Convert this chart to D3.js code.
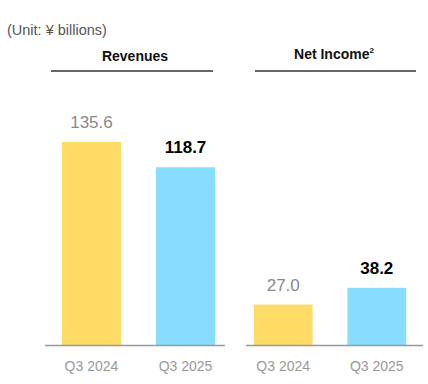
<!DOCTYPE html>
<html>
<head>
<meta charset="utf-8">
<script src="https://cdn.jsdelivr.net/npm/d3@7"></script>
<style>
  body { margin: 0; background: #fff; }
  svg { display: block; }
</style>
</head>
<body>
<svg id="chart" width="428" height="384"></svg>
<script>
// data
var periods = ["Q3 2024", "Q3 2025"];
var revenues = [135.6, 118.7];
var netIncome = [27.0, 38.2];
var panelTitles = ["Revenues", "Net Income"];

var colors = ["#FFDC67", "#87DDFF"];

var svg = d3.select("#chart");
var baseY = 345;

// shared value scale for both panels
var y = d3.scaleLinear()
    .domain([0, 135.6])
    .range([baseY, 142]);

svg.append("text")
    .attr("x", 7)
    .attr("y", 35)
    .attr("fill", "#555")
    .attr("font-family", "Liberation Sans, Arial, sans-serif")
    .attr("font-size", 14.5)
    .text("(Unit: ¥ billions)");

var panels = [
    { title: panelTitles[0], values: revenues, range: [45, 232], axis: [45, 225], rule: [51, 213], titleX: 135, titleY: 61 },
    { title: panelTitles[1], values: netIncome, range: [237, 423], axis: [246, 423], rule: [255, 416], titleX: 334, titleY: 59 }
];

panels.forEach(function(p) {
    var x = d3.scaleBand()
        .domain(periods)
        .range(p.range)
        .paddingInner(0.372)
        .paddingOuter(0.18);

    var g = svg.append("g").attr("class", "panel");

    var t = g.append("text")
        .attr("x", p.titleX)
        .attr("y", p.titleY)
        .attr("text-anchor", "middle")
        .attr("font-family", "Liberation Sans, Arial, sans-serif")
        .attr("font-weight", "bold")
        .attr("font-size", 14)
        .attr("fill", "#111")
        .text(p.title);
    if (p.title === "Net Income") {
        t.append("tspan")
            .attr("dy", -6)
            .attr("font-size", 8)
            .text("2");
    }

    g.append("line")
        .attr("x1", p.rule[0]).attr("x2", p.rule[1])
        .attr("y1", 71).attr("y2", 71)
        .attr("stroke", "#333")
        .attr("stroke-width", 1.3);

    g.selectAll("rect.bar")
        .data(p.values)
        .enter().append("rect")
        .attr("class", "bar")
        .attr("x", function(d, i) { return x(periods[i]); })
        .attr("y", function(d) { return y(d); })
        .attr("width", x.bandwidth())
        .attr("height", function(d) { return baseY - y(d); })
        .attr("fill", function(d, i) { return colors[i]; });

    g.selectAll("text.value")
        .data(p.values)
        .enter().append("text")
        .attr("class", "value")
        .attr("x", function(d, i) { return x(periods[i]) + x.bandwidth() / 2; })
        .attr("y", function(d) { return y(d) - 14; })
        .attr("text-anchor", "middle")
        .attr("font-family", "Liberation Sans, Arial, sans-serif")
        .attr("font-size", 17)
        .attr("font-weight", function(d, i) { return i === 1 ? "bold" : "normal"; })
        .attr("fill", function(d, i) { return i === 1 ? "#000" : "#8a8a8a"; })
        .text(function(d) { return d3.format(".1f")(d); });

    g.append("line")
        .attr("x1", p.axis[0]).attr("x2", p.axis[1])
        .attr("y1", baseY + 0.5).attr("y2", baseY + 0.5)
        .attr("stroke", "#999")
        .attr("stroke-width", 1.5);

    g.selectAll("text.cat")
        .data(periods)
        .enter().append("text")
        .attr("class", "cat")
        .attr("x", function(d) { return x(d) + x.bandwidth() / 2; })
        .attr("y", 371)
        .attr("text-anchor", "middle")
        .attr("font-family", "Liberation Sans, Arial, sans-serif")
        .attr("font-size", 14)
        .attr("fill", "#999")
        .text(function(d) { return d; });
});
</script>
</body>
</html>
